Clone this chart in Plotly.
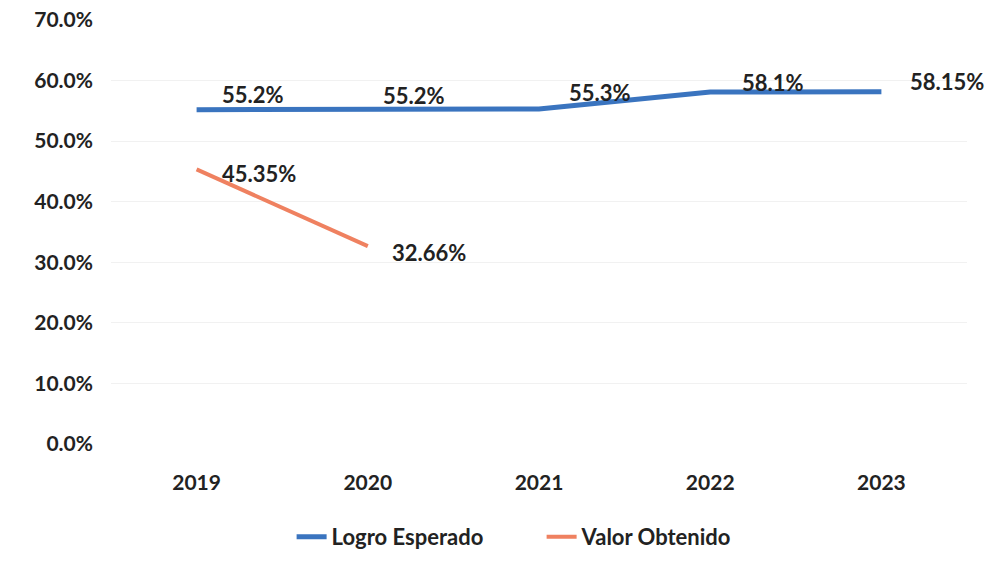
import plotly.graph_objects as go

years = ["2019", "2020", "2021", "2022", "2023"]
logro_esperado = [55.2, 55.2, 55.3, 58.1, 58.15]
logro_labels = ["55.2%", "55.2%", "55.3%", "58.1%", "58.15%"]
valor_obtenido = [45.35, 32.66]
valor_years = ["2019", "2020"]
valor_labels = ["45.35%", "32.66%"]
y_ticks = [0, 10, 20, 30, 40, 50, 60, 70]
y_tick_text = ["0.0%", "10.0%", "20.0%", "30.0%", "40.0%", "50.0%", "60.0%", "70.0%"]

# label offsets in pixels (style only)
LOGRO_DX = [23, 13, 28, 30, 27]
LOGRO_DY = [15, 14, 17, 10, 10]
VALOR_DX = [23, 22]
VALOR_DY = [-4, -6]

BLUE = "#3a74bf"
ORANGE = "#ef8160"
TXT = "#222222"
FONT = "Lato"

fig = go.Figure()
fig.add_trace(go.Scatter(x=years, y=logro_esperado, mode="lines", name="Logro Esperado",
                         line=dict(color=BLUE, width=5)))
fig.add_trace(go.Scatter(x=valor_years, y=valor_obtenido, mode="lines", name="Valor Obtenido",
                         line=dict(color=ORANGE, width=4)))

anns = []
for i, (x, y, t) in enumerate(zip(years, logro_esperado, logro_labels)):
    anns.append(dict(x=years.index(x), y=y, text=t, showarrow=False, xanchor="left", yanchor="middle",
                     xshift=LOGRO_DX[i], yshift=LOGRO_DY[i],
                     font=dict(family=FONT, size=22, color=TXT, weight="bold")))
for i, (x, y, t) in enumerate(zip(valor_years, valor_obtenido, valor_labels)):
    anns.append(dict(x=years.index(x), y=y, text=t, showarrow=False, xanchor="left", yanchor="middle",
                     xshift=VALOR_DX[i], yshift=VALOR_DY[i],
                     font=dict(family=FONT, size=22, color=TXT, weight="bold")))

fig.update_layout(
    width=989, height=562,
    margin=dict(l=111, r=22, t=20, b=118, autoexpand=False),
    paper_bgcolor="white", plot_bgcolor="white",
    font=dict(family=FONT, size=21, color=TXT, weight="bold"),
    showlegend=True,
    legend=dict(orientation="h", x=0.211, xanchor="left", y=-0.219, yanchor="middle",
                entrywidth=205, entrywidthmode="pixels",
                font=dict(family=FONT, size=22, color=TXT, weight="bold")),
    annotations=anns,
)
fig.update_xaxes(type="category", range=[-0.5, 4.5], showgrid=False, showline=False,
                 zeroline=False, ticks="", ticklabelstandoff=24, automargin=False,
                 tickfont=dict(family=FONT, size=21, color=TXT, weight="bold"))
fig.update_yaxes(range=[0, 70], tickvals=y_ticks, ticktext=y_tick_text, showgrid=True,
                 gridcolor="#f1f1f1", gridwidth=1, zeroline=False, showline=False, ticks="",
                 ticklabelstandoff=17, automargin=False,
                 tickfont=dict(family=FONT, size=21, color=TXT, weight="bold"))

fig.write_html("out.html", config={"displayModeBar": False},
               post_script="document.body.style.margin='0';")
